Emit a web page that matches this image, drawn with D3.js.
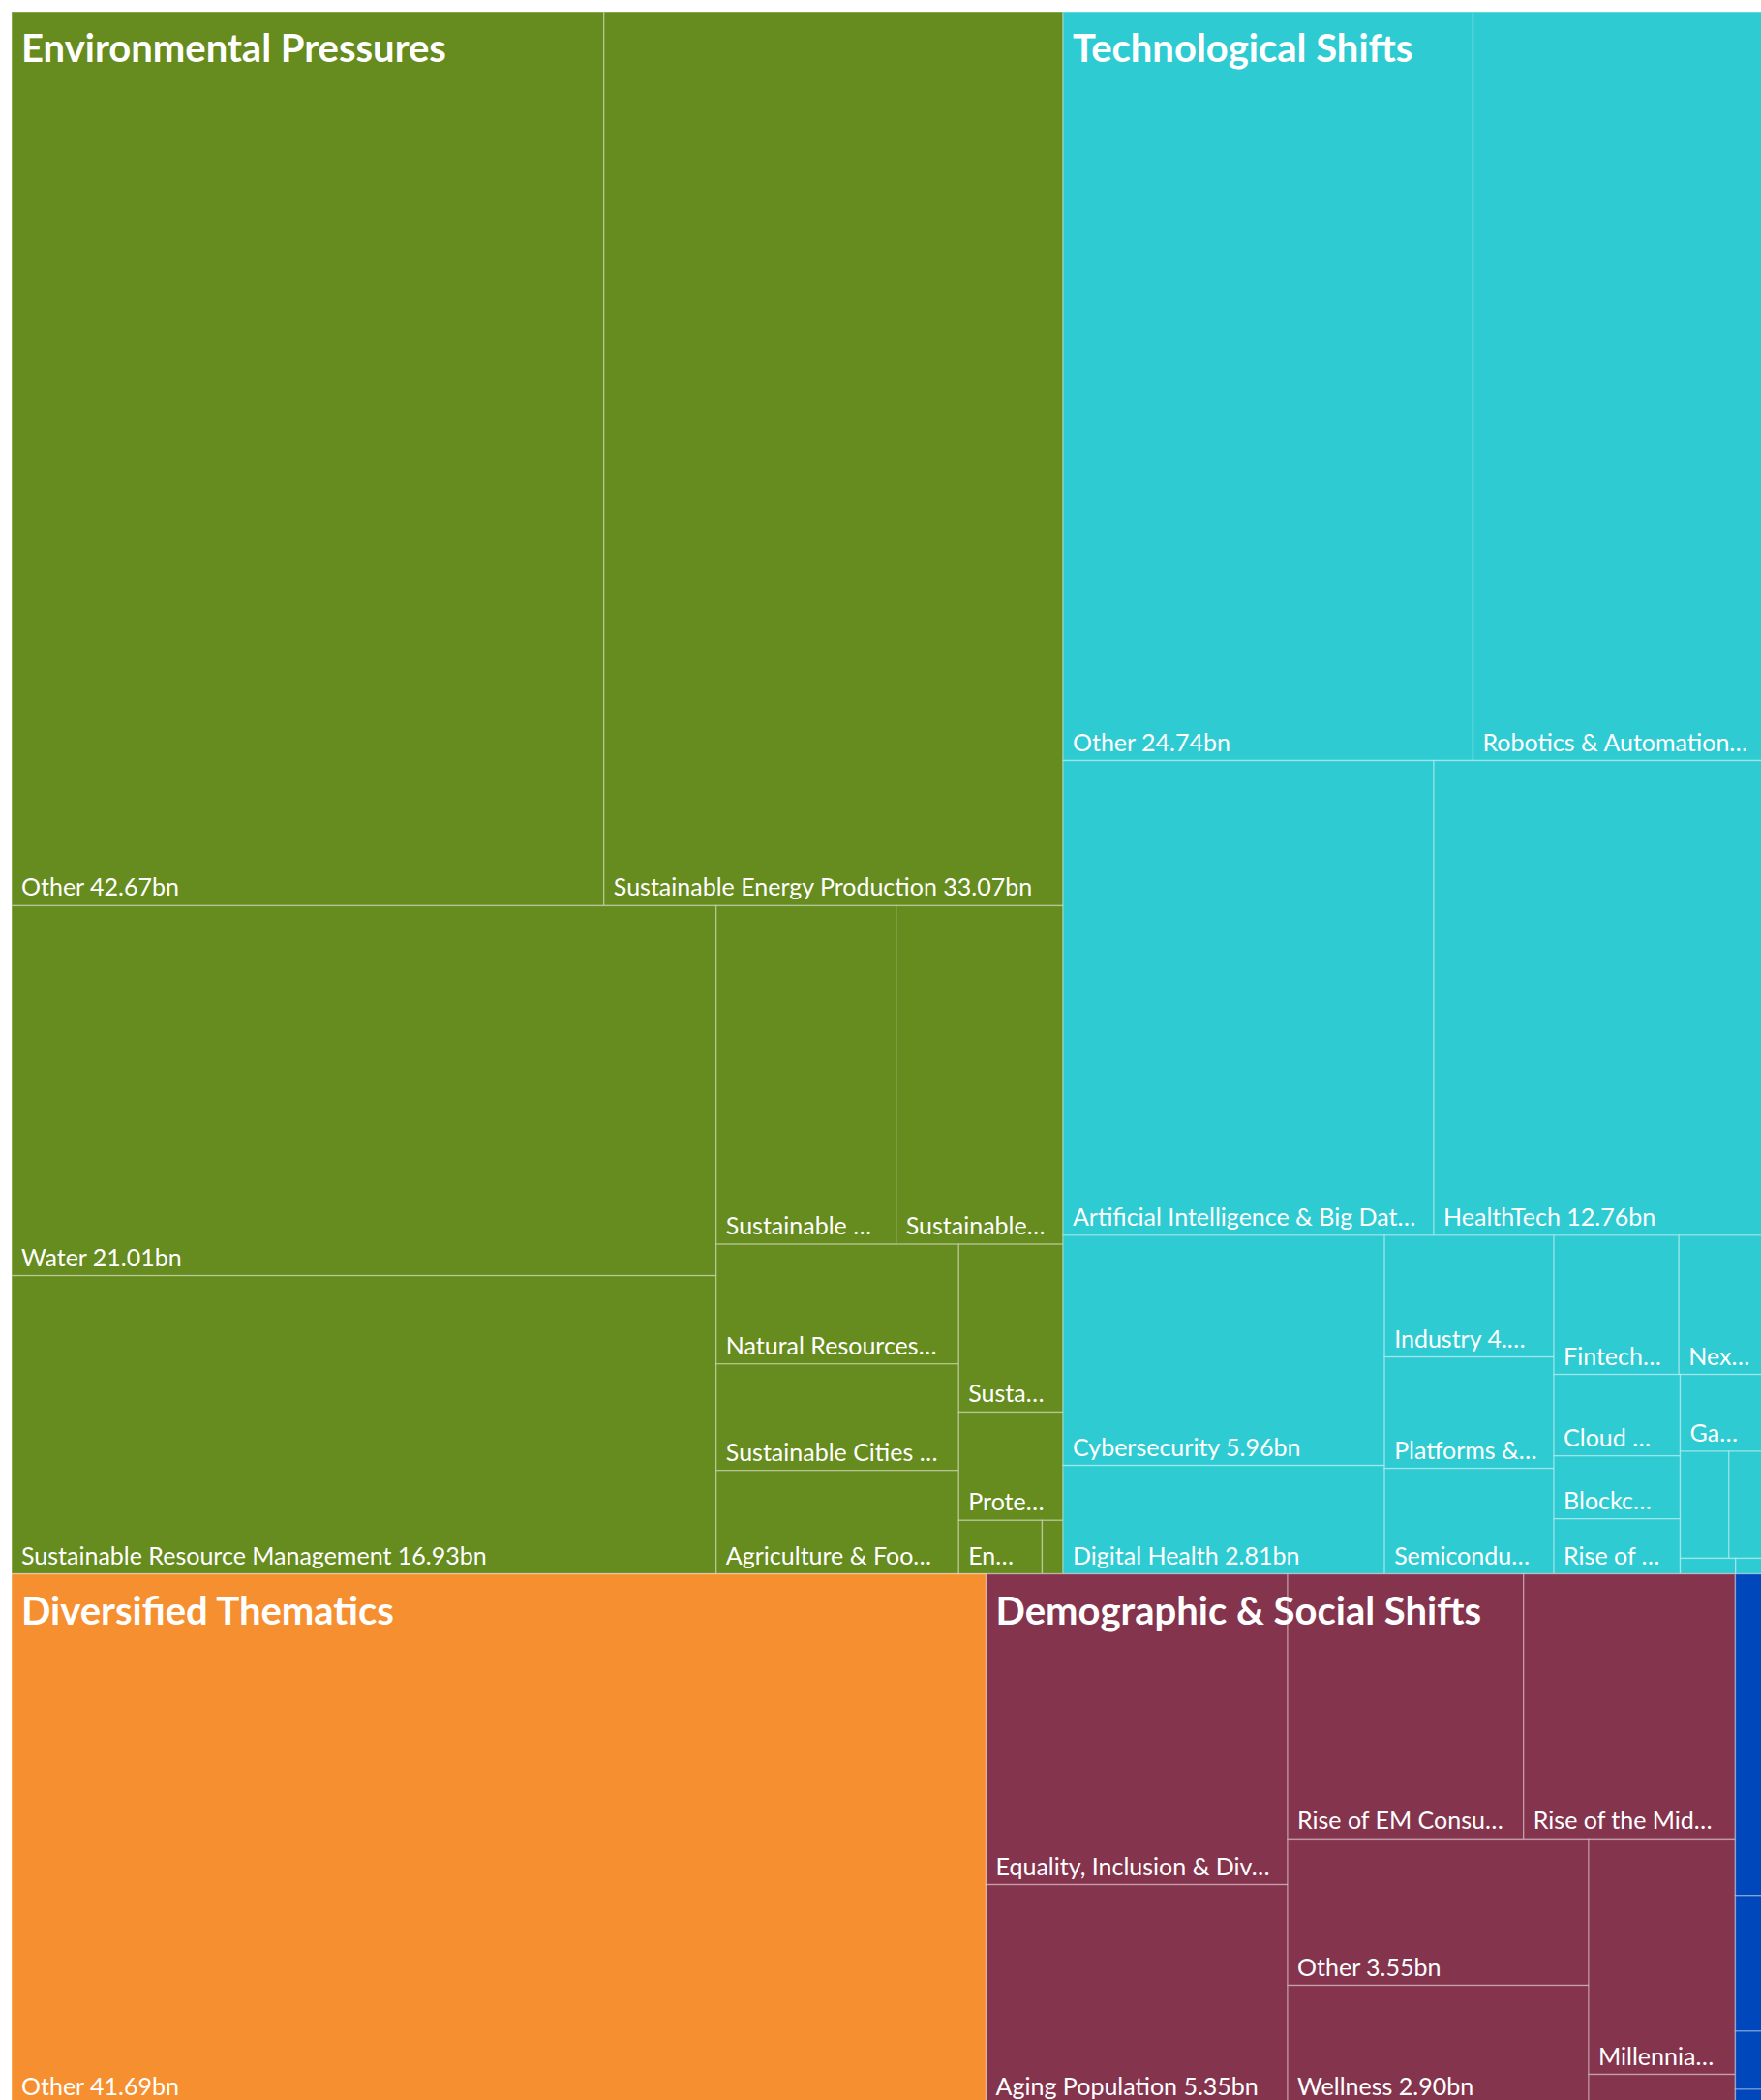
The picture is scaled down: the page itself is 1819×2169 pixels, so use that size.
<!DOCTYPE html>
<html>
<head>
<meta charset="utf-8">
<script src="https://cdn.jsdelivr.net/npm/d3@7"></script>
<style>
  body { margin: 0; background: #fff; }
  svg { display: block; }
</style>
</head>
<body>
<div id="chart"></div>
<script>
// group level
const groupNames = ["Environmental Pressures", "Technological Shifts", "Diversified Thematics", "Demographic & Social Shifts", "Other Themes"];
const groupColors = ["#668b1e", "#2ecbd3", "#f68f30", "#85344e", "#0047bb"];

// themes inside each group (bn)
const envNames = ["Other", "Sustainable Energy Production", "Water", "Sustainable Resource Management",
  "Sustainable Transport", "Sustainable Materials", "Natural Resources & Mining", "Sustainable Cities & Infrastructure",
  "Agriculture & Food", "Sustainable Oceans", "Protection of Biodiversity", "Energy Transition", "Circular Economy"];
const envValues = [42.67, 33.07, 21.01, 16.93, 4.91, 4.55, 2.34, 2.08, 2.02, 1.41, 0.91, 0.36, 0.09];

const techNames = ["Other", "Robotics & Automation", "Artificial Intelligence & Big Data", "HealthTech", "Cybersecurity",
  "Digital Health", "Industry 4.0", "Platforms & Marketplaces", "Semiconductors", "Fintech", "Next Generation Connectivity",
  "Cloud Computing", "Blockchain", "Rise of the Machines", "Gaming & eSports", "Space", "Quantum Computing",
  "Metaverse", "Mobility"];
const techValues = [24.74, 17.76, 14.19, 12.76, 5.96, 2.81, 1.66, 1.52, 1.44, 1.40, 0.99, 0.83, 0.64, 0.56, 0.54, 0.42, 0.33, 0.07, 0.04];

const divNames = ["Other"];
const divValues = [41.69];

const demoNames = ["Equality, Inclusion & Diversity", "Aging Population", "Rise of EM Consumers", "Rise of the Middle Class",
  "Other", "Wellness", "Millennials", "Education"];
const demoValues = [7.55, 5.35, 5.04, 4.52, 3.55, 2.90, 2.78, 0.36];

const otherNames = ["Other", "Infrastructure", "Consumer", "Security"];
const otherValues = [0.83, 0.35, 0.15, 0.04];

const childNames = [envNames, techNames, divNames, demoNames, otherNames];
const childValues = [envValues, techValues, divValues, demoValues, otherValues];

const width = 1819, height = 2169;
const margin = { top: 12, left: 12 };
const mapW = 1813.5, mapH = 2162;
const labelFont = "Lato, 'Source Sans Pro', sans-serif";

const data = {
  name: "root",
  children: groupNames.map((g, i) => ({
    name: g,
    color: groupColors[i],
    children: childNames[i].map((n, j) => ({ name: n, value: childValues[i][j] }))
  }))
};

const root = d3.hierarchy(data)
  .sum(d => d.value || 0)
  .sort((a, b) => b.value - a.value);

d3.treemap()
  .tile(d3.treemapSquarify)
  .size([mapW, mapH])(root);

const svg = d3.select("#chart").append("svg")
  .attr("width", width)
  .attr("height", height);

const chart = svg.append("g")
  .attr("transform", `translate(${margin.left},${margin.top})`);

const leaves = chart.selectAll("g.leaf")
  .data(root.leaves())
  .enter().append("g")
  .attr("class", "leaf")
  .attr("transform", d => `translate(${d.x0},${d.y0})`);

leaves.append("rect")
  .attr("width", d => d.x1 - d.x0)
  .attr("height", d => d.y1 - d.y0)
  .attr("fill", d => d.parent.data.color)
  .attr("stroke", "rgba(255,255,255,0.3)")
  .attr("stroke-width", 1.5);

// fit a label inside a box, cutting it with an ellipsis
function fitText(node, full, maxW) {
  const t = d3.select(node);
  t.text(full);
  if (node.getComputedTextLength() <= maxW) return true;
  for (let n = full.length - 1; n >= 2; n--) {
    t.text(full.slice(0, n) + "\u2026");
    if (node.getComputedTextLength() <= maxW) return true;
  }
  t.remove();
  return false;
}

leaves.each(function(d) {
  const w = d.x1 - d.x0, h = d.y1 - d.y0;
  if (h < 36 || w < 40) return;
  const txt = d3.select(this).append("text")
    .attr("x", 10)
    .attr("y", h - 10)
    .attr("fill", "#fff")
    .style("font-family", labelFont)
    .style("font-size", "25px");
  fitText(txt.node(), d.data.name + " " + d.value.toFixed(2) + "bn", w - 27);
});

// group titles on top
chart.selectAll("text.group")
  .data(root.children)
  .enter().append("text")
  .attr("class", "group")
  .attr("x", d => d.x0 + 10)
  .attr("y", d => d.y0 + 52)
  .attr("fill", "#fff")
  .style("font-family", labelFont)
  .style("font-weight", "bold")
  .style("font-size", "40px")
  .text(d => d.data.name)
  .each(function(d) {
    if (this.getComputedTextLength() > d.x1 - d.x0 - 20) d3.select(this).remove();
  });
</script>
</body>
</html>
